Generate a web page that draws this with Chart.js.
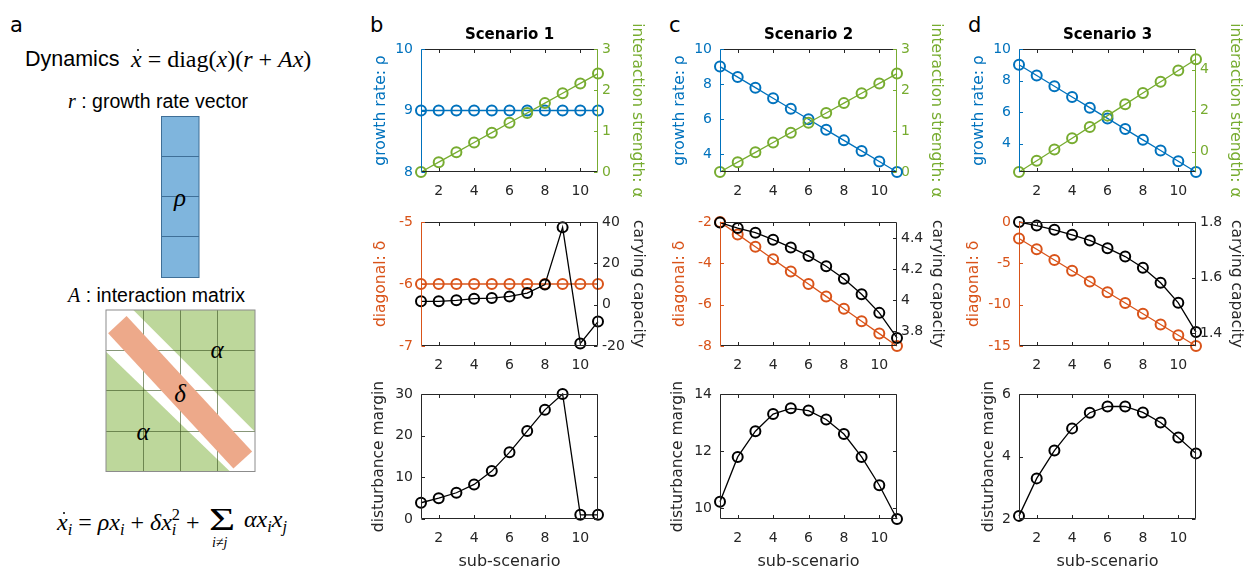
<!DOCTYPE html>
<html>
<head>
<meta charset="utf-8">
<script src="https://cdn.jsdelivr.net/npm/chart.js@4.4.1/dist/chart.umd.min.js"></script>
<style>
  body { margin: 0; background: #fff; width: 1257px; height: 570px; position: relative; overflow: hidden; }
  canvas { position: absolute; }
  .t { position: absolute; white-space: nowrap; line-height: 1; color: #000; }
  .letter { font-family: 'DejaVu Sans', sans-serif; font-size: 21px; }
  .scen { font-family: 'DejaVu Sans', sans-serif; font-size: 15px; font-weight: bold; width: 177px; text-align: center; }
  .sans { font-family: 'Liberation Sans', Arial, sans-serif; }
  .m { font-family: 'Liberation Serif', 'Times New Roman', serif; }
  .m i { font-style: italic; }
  .dot { position: relative; font-style: italic; }
  .dot::after { content: ''; position: absolute; left: 0.24em; top: 0.12em; width: 0.1em; height: 0.1em; border-radius: 50%; background: #000; }
  .sb { font-size: 0.68em; vertical-align: -0.3em; font-style: italic; }
  .ss { display: inline-block; font-size: 0.68em; line-height: 0.95; vertical-align: -0.35em; }
  .ss span { display: block; }
  .sig { display: inline-block; transform: scaleX(1.45); transform-origin: left center; }
</style>
</head>
<body>
<svg style="position:absolute;left:0;top:0" width="370" height="570">
  <!-- growth rate vector -->
  <rect x="161.5" y="116.5" width="37.5" height="161" fill="#7fb5dd" stroke="#3f6f97" stroke-width="1"/>
  <line x1="161.5" y1="156.5" x2="199" y2="156.5" stroke="#3f6f97"/>
  <line x1="161.5" y1="196.5" x2="199" y2="196.5" stroke="#3f6f97"/>
  <line x1="161.5" y1="236.5" x2="199" y2="236.5" stroke="#3f6f97"/>
  <text x="180" y="206" font-family="Liberation Serif, serif" font-style="italic" font-size="25" text-anchor="middle">ρ</text>
  <!-- interaction matrix -->
  <rect x="106" y="310" width="149" height="161.5" fill="#bdd79b"/>
  <polygon points="133.3,310 255,431.7 255,471.5 230,471.5 106,351.7 106,310" fill="#ffffff"/>
  <g stroke="rgba(55,80,30,0.6)" stroke-width="1">
    <line x1="143.5" y1="310" x2="143.5" y2="471.5"/>
    <line x1="180.5" y1="310" x2="180.5" y2="471.5"/>
    <line x1="217.5" y1="310" x2="217.5" y2="471.5"/>
    <line x1="106" y1="350.5" x2="255" y2="350.5"/>
    <line x1="106" y1="390.5" x2="255" y2="390.5"/>
    <line x1="106" y1="431.5" x2="255" y2="431.5"/>
  </g>
  <polygon points="126.6,316.1 252.1,451.6 233.4,468.5 108.1,333.2" fill="#eda98a"/>
  <rect x="106" y="310" width="149" height="161.5" fill="none" stroke="#8c8c8c" stroke-width="1"/>
  <text x="180" y="402" font-family="Liberation Serif, serif" font-style="italic" font-size="25" text-anchor="middle">δ</text>
  <text x="217" y="358" font-family="Liberation Serif, serif" font-style="italic" font-size="25" text-anchor="middle">α</text>
  <text x="143" y="440" font-family="Liberation Serif, serif" font-style="italic" font-size="25" text-anchor="middle">α</text>
</svg>

<div class="t letter" style="left:10px;top:15px">a</div>
<div class="t letter" style="left:370px;top:15px">b</div>
<div class="t letter" style="left:669px;top:15px">c</div>
<div class="t letter" style="left:968px;top:15px">d</div>

<div class="t sans" style="left:25px;top:49px;font-size:21.5px">Dynamics</div>
<div class="t m" style="left:131px;top:47px;font-size:24px"><span class="dot">x</span> = diag(<i>x</i>)(<i>r</i> + <i>Ax</i>)</div>
<div class="t" style="left:68px;top:91px"><span class="m" style="font-size:20px"><i>r</i></span><span class="sans" style="font-size:19.5px"> : growth rate vector</span></div>
<div class="t" style="left:68px;top:285px"><span class="m" style="font-size:20px"><i>A</i></span><span class="sans" style="font-size:19.5px"> : interaction matrix</span></div>

<div class="t m" style="left:57px;top:507px;font-size:24px"><span class="dot">x</span><span class="sb">i</span> = <i>ρx</i><span class="sb">i</span> + <i>δx</i><span class="ss"><span>2</span><span><i>i</i></span></span> +</div>
<div class="t m" style="left:209px;top:504px;font-size:31px"><span class="sig">Σ</span></div>
<div class="t m" style="left:212px;top:536px;font-size:14px"><i>i</i>≠<i>j</i></div>
<div class="t m" style="left:244px;top:507px;font-size:24px"><i>αx</i><span class="sb">i</span><i>x</i><span class="sb">j</span></div>

<script>
// sub-scenario index and shared ticks
const subScenario = [1, 2, 3, 4, 5, 6, 7, 8, 9, 10, 11];
const xTicks = [2, 4, 6, 8, 10];

// Scenario 1
const s1Rho = [9, 9, 9, 9, 9, 9, 9, 9, 9, 9, 9];
const s1Alpha = [0, 0.24, 0.48, 0.72, 0.96, 1.2, 1.44, 1.68, 1.92, 2.16, 2.4];
const s1Delta = [-6, -6, -6, -6, -6, -6, -6, -6, -6, -6, -6];
const s1Capacity = [1.6, 1.6, 2.1, 2.9, 3.2, 4.0, 5.6, 9.7, 37.4, -18.8, -8.2];
const s1Margin = [3.9, 5.0, 6.3, 8.3, 11.5, 16.0, 21.1, 26.2, 30.0, 1.0, 1.0];

// Scenario 2
const s2Rho = [9, 8.4, 7.8, 7.2, 6.6, 6.0, 5.4, 4.8, 4.2, 3.6, 3.0];
const s2Alpha = [0, 0.24, 0.48, 0.72, 0.96, 1.2, 1.44, 1.68, 1.92, 2.16, 2.4];
const s2Delta = [-2, -2.6, -3.2, -3.8, -4.4, -5.0, -5.6, -6.2, -6.8, -7.4, -8.0];
const s2Capacity = [4.5, 4.465, 4.435, 4.39, 4.34, 4.285, 4.218, 4.138, 4.037, 3.917, 3.755];
const s2Margin = [10.23, 11.8, 12.7, 13.3, 13.5, 13.42, 13.11, 12.6, 11.8, 10.81, 9.63];

// Scenario 3
const s3Rho = [9, 8.32, 7.64, 6.96, 6.28, 5.6, 4.92, 4.24, 3.56, 2.88, 2.2];
const s3Alpha = [-1, -0.45, 0.1, 0.65, 1.2, 1.75, 2.3, 2.85, 3.4, 3.95, 4.5];
const s3Delta = [-2, -3.3, -4.6, -5.9, -7.2, -8.5, -9.8, -11.1, -12.4, -13.7, -15];
const s3Capacity = [1.8, 1.787, 1.772, 1.754, 1.734, 1.706, 1.676, 1.636, 1.582, 1.51, 1.405];
const s3Margin = [2.1, 3.3, 4.19, 4.9, 5.4, 5.6, 5.6, 5.41, 5.09, 4.61, 4.1];

// axis ranges and tick labels
const rhoTicks = [[8, 9, 10], [4, 6, 8, 10], [4, 6, 8, 10]];
const rhoRange = [[8, 10], [3, 10], [2.2, 10]];
const alphaTicks = [[0, 1, 2, 3], [0, 1, 2, 3], [0, 2, 4]];
const alphaRange = [[0, 3], [0, 3], [-1, 5]];
const deltaTicks = [[-7, -6, -5], [-8, -6, -4, -2], [-15, -10, -5, 0]];
const deltaRange = [[-7, -5], [-8, -2], [-15, 0]];
const capTicks = [[-20, 0, 20, 40], [3.8, 4, 4.2, 4.4], [1.4, 1.6, 1.8]];
const capRange = [[-20, 40], [3.703, 4.504], [1.355, 1.8]];
const marginTicks = [[0, 10, 20, 30], [10, 12, 14], [2, 4, 6]];
const marginRange = [[0, 30], [9.63, 14], [2, 6]];

const scenarioNames = ['Scenario 1', 'Scenario 2', 'Scenario 3'];

const C_BLUE = '#0072BD', C_GREEN = '#77AC30', C_ORANGE = '#D95319', C_AXIS = '#262626';
const FONT = "'DejaVu Sans', sans-serif";
const TITLE_SIZE = 15.5;

const COL_LEFT = [421, 720, 1019];
const PLOT_W = 177;
const ROWS = [{ top: 49, h: 123, xh: 42 }, { top: 222, h: 124, xh: 42 }, { top: 394, h: 125, xh: 55 }];
const PAD_T = 42, SIDE = 60;

const fmt = v => String(+Number(v).toFixed(3));

// MATLAB style box: inward ticks, top and right edges
const boxPlugin = {
    id: 'matlabBox',
    afterDraw(chart) {
        const { ctx, chartArea: a, scales } = chart;
        const L = a.left + 0.5, R = a.right - 0.5, T = a.top + 0.5, B = a.bottom - 0.5;
        const TL = 3.5;
        const seg = (x1, y1, x2, y2, c) => {
            ctx.strokeStyle = c;
            ctx.beginPath(); ctx.moveTo(x1, y1); ctx.lineTo(x2, y2); ctx.stroke();
        };
        ctx.save();
        ctx.lineWidth = 1;
        const x = scales.x;
        x.ticks.forEach(t => {
            const p = Math.round(x.getPixelForValue(t.value)) + 0.5;
            seg(p, B, p, B - TL, C_AXIS);
            seg(p, T, p, T + TL, C_AXIS);
        });
        seg(L, B, R, B, C_AXIS);
        seg(L, T, R, T, C_AXIS);
        const yl = scales.y, yr = scales.y2;
        const lc = yl.options.ticks.color;
        yl.ticks.forEach(t => {
            const p = Math.round(yl.getPixelForValue(t.value)) + 0.5;
            seg(L, p, L + TL, p, lc);
            if (!yr) seg(R, p, R - TL, p, lc);
        });
        if (yr) {
            const rc = yr.options.ticks.color;
            yr.ticks.forEach(t => {
                const p = Math.round(yr.getPixelForValue(t.value)) + 0.5;
                seg(R, p, R - TL, p, rc);
            });
            seg(R, T, R, B, rc);
        } else {
            seg(R, T, R, B, C_AXIS);
        }
        seg(L, T, L, B, lc);
        ctx.restore();
    }
};

function series(vals, color, axis) {
    return {
        data: subScenario.map((x, i) => ({ x, y: vals[i] })),
        yAxisID: axis,
        borderColor: color,
        backgroundColor: color,
        borderWidth: 1.3,
        pointRadius: 5,
        pointBorderWidth: 2,
        pointBackgroundColor: 'rgba(0,0,0,0)',
        pointBorderColor: color,
        tension: 0,
        fill: false,
        clip: false
    };
}

function yScale(pos, range, ticks, color, title, titleGap) {
    return {
        type: 'linear',
        position: pos,
        min: range[0],
        max: range[1],
        afterBuildTicks: s => { s.ticks = ticks.map(v => ({ value: v })); },
        afterFit: s => { s.width = SIDE; },
        grid: { display: false, drawTicks: false },
        border: { display: false },
        ticks: { color, padding: pos === 'left' ? 8 : 4, font: { family: FONT, size: 14 }, callback: v => fmt(v) },
        title: {
            display: true, text: title, color,
            font: { family: FONT, size: TITLE_SIZE },
            padding: { top: SIDE - titleGap - TITLE_SIZE * 0.6, bottom: 0 }
        }
    };
}

function buildChart(col, row, datasets, left, right) {
    const r = ROWS[row];
    const W = PLOT_W + 2 * SIDE, H = PAD_T + r.h + r.xh;
    const cv = document.createElement('canvas');
    cv.width = W; cv.height = H;
    cv.style.left = (COL_LEFT[col] - SIDE) + 'px';
    cv.style.top = (r.top - PAD_T) + 'px';
    cv.style.width = W + 'px'; cv.style.height = H + 'px';
    document.body.appendChild(cv);

    const scales = {
        x: {
            type: 'linear',
            min: 1, max: 11,
            afterBuildTicks: s => { s.ticks = xTicks.map(v => ({ value: v })); },
            afterFit: s => { s.height = r.xh; },
            grid: { display: false, drawTicks: false },
            border: { display: false },
            ticks: { color: C_AXIS, padding: 11, maxRotation: 0, font: { family: FONT, size: 14 }, callback: v => fmt(v) },
            title: { display: row === 2, text: 'sub-scenario', color: C_AXIS, font: { family: FONT, size: 16 }, padding: { top: 0, bottom: 3 } }
        },
        y: left
    };
    if (right) scales.y2 = right;

    new Chart(cv, {
        type: 'line',
        data: { datasets },
        options: {
            responsive: false,
            animation: false,
            devicePixelRatio: 1,
            layout: { padding: { top: PAD_T, left: 0, right: right ? 0 : SIDE, bottom: 0 } },
            plugins: { legend: { display: false }, tooltip: { enabled: false } },
            scales
        },
        plugins: [boxPlugin]
    });
}

const rhoData = [s1Rho, s2Rho, s3Rho];
const alphaData = [s1Alpha, s2Alpha, s3Alpha];
const deltaData = [s1Delta, s2Delta, s3Delta];
const capData = [s1Capacity, s2Capacity, s3Capacity];
const marginData = [s1Margin, s2Margin, s3Margin];
const deltaGap = [40, 40, 45];
const marginGap = [42, 42, 30];

for (let c = 0; c < 3; c++) {
    buildChart(c, 0,
        [series(alphaData[c], C_GREEN, 'y2'), series(rhoData[c], C_BLUE, 'y')],
        yScale('left', rhoRange[c], rhoTicks[c], C_BLUE, 'growth rate: ρ', 40),
        yScale('right', alphaRange[c], alphaTicks[c], C_GREEN, 'interaction strength: α', 39));

    buildChart(c, 1,
        [series(capData[c], '#000000', 'y2'), series(deltaData[c], C_ORANGE, 'y')],
        yScale('left', deltaRange[c], deltaTicks[c], C_ORANGE, 'diagonal: δ', deltaGap[c]),
        yScale('right', capRange[c], capTicks[c], C_AXIS, 'carying capacity', 40));

    buildChart(c, 2,
        [series(marginData[c], '#000000', 'y')],
        yScale('left', marginRange[c], marginTicks[c], C_AXIS, 'disturbance margin', marginGap[c]),
        null);

    const d = document.createElement('div');
    d.className = 't scen';
    d.style.left = COL_LEFT[c] + 'px';
    d.style.top = '27px';
    d.textContent = scenarioNames[c];
    document.body.appendChild(d);
}
</script>
</body>
</html>
